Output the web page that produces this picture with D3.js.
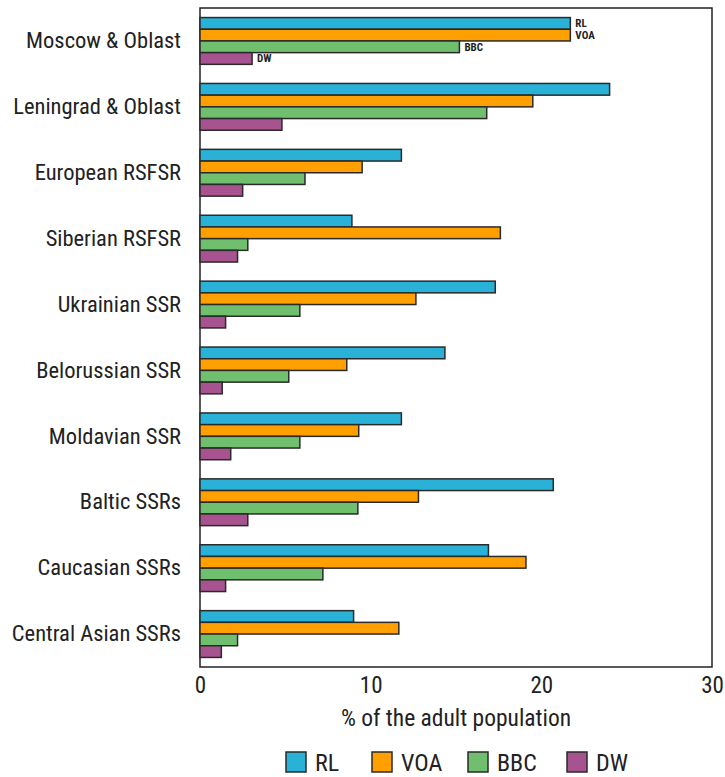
<!DOCTYPE html>
<html>
<head>
<meta charset="utf-8">
<script src="https://cdn.jsdelivr.net/npm/d3@7"></script>
<style>
  body { margin: 0; background: #fff; }
  svg text { font-family: "Roboto Condensed", "Liberation Sans Narrow", "DejaVu Sans Condensed", sans-serif; fill: #222; }
</style>
</head>
<body>
<div id="chart"></div>
<script>
// Regions of the USSR
const regions = [
  "Moscow & Oblast", "Leningrad & Oblast", "European RSFSR", "Siberian RSFSR",
  "Ukrainian SSR", "Belorussian SSR", "Moldavian SSR", "Baltic SSRs",
  "Caucasian SSRs", "Central Asian SSRs"
];
const stations = ["RL", "VOA", "BBC", "DW"];
const colors = ["#29b1d7", "#ffa000", "#6fbf6f", "#a6538f"];

// % of the adult population
const rlValues  = [21.7, 24.0, 11.8, 8.9, 17.3, 14.35, 11.8, 20.7, 16.9, 9.0];
const voaValues = [21.7, 19.5, 9.5, 17.6, 12.65, 8.6, 9.3, 12.8, 19.1, 11.65];
const bbcValues = [15.2, 16.8, 6.15, 2.8, 5.85, 5.2, 5.85, 9.25, 7.2, 2.2];
const dwValues  = [3.05, 4.8, 2.5, 2.2, 1.5, 1.3, 1.8, 2.8, 1.5, 1.25];
const xTicks = [0, 10, 20, 30];

const series = [rlValues, voaValues, bbcValues, dwValues];
const data = regions.map((r, i) => ({ region: r, values: stations.map((s, j) => ({ station: s, value: series[j][i] })) }));

const width = 725, height = 777;
const margin = { top: 8, right: 13, bottom: 110, left: 200 };
const chartWidth = width - margin.left - margin.right;
const chartHeight = height - margin.top - margin.bottom;

const svg = d3.select("#chart").append("svg")
  .attr("width", width)
  .attr("height", height);

const g = svg.append("g").attr("transform", `translate(${margin.left},${margin.top})`);

const x = d3.scaleLinear().domain([0, 30]).range([0, chartWidth]);
const y = d3.scaleBand().domain(regions).range([0, chartHeight]).paddingInner(0.29).paddingOuter(0.145);
const y1 = d3.scaleBand().domain(stations).range([0, y.bandwidth()]);
const color = d3.scaleOrdinal().domain(stations).range(colors);

// frame
g.append("rect")
  .attr("width", chartWidth).attr("height", chartHeight)
  .attr("fill", "none").attr("stroke", "#222").attr("stroke-width", 1.5);

// bars
const groups = g.selectAll(".grp").data(data).join("g")
  .attr("transform", d => `translate(0,${y(d.region)})`);

groups.selectAll("rect").data(d => d.values).join("rect")
  .attr("x", 0)
  .attr("y", d => y1(d.station))
  .attr("width", d => x(d.value))
  .attr("height", y1.bandwidth())
  .attr("fill", d => color(d.station))
  .attr("stroke", "#2a2a2a")
  .attr("stroke-width", 1.5);

// labels on the first group only
groups.filter((d, i) => i === 0).selectAll("text.lbl").data(d => d.values).join("text")
  .attr("class", "lbl")
  .attr("x", d => x(d.value) + 5)
  .attr("y", d => y1(d.station) + y1.bandwidth() / 2)
  .attr("dy", "0.35em")
  .style("font-size", "11px")
  .style("font-weight", "bold")
  .text(d => d.station);

// y axis labels
const yAxis = g.append("g")
  .call(d3.axisLeft(y).tickSize(0).tickPadding(19));
yAxis.select(".domain").remove();
yAxis.selectAll("text").style("font-size", "22.5px");

// x axis
const xAxis = g.append("g")
  .attr("transform", `translate(0,${chartHeight})`)
  .call(d3.axisBottom(x).tickValues(xTicks).tickSize(0).tickPadding(10));
xAxis.select(".domain").remove();
xAxis.selectAll("text").style("font-size", "23px");

g.append("text")
  .attr("x", chartWidth / 2)
  .attr("y", chartHeight + 59)
  .attr("text-anchor", "middle")
  .style("font-size", "23.5px")
  .text("% of the adult population");

// legend
const legendX = [286, 372, 468, 567];
const legend = svg.append("g").attr("transform", `translate(0,752)`);
const items = legend.selectAll("g").data(stations).join("g")
  .attr("transform", (d, i) => `translate(${legendX[i]},0)`);
items.append("rect")
  .attr("width", 20).attr("height", 20)
  .attr("fill", d => color(d))
  .attr("stroke", "#2a2a2a").attr("stroke-width", 1.5);
items.append("text")
  .attr("x", 29).attr("y", 10).attr("dy", "0.36em")
  .style("font-size", "24px")
  .text(d => d);
</script>
</body>
</html>
